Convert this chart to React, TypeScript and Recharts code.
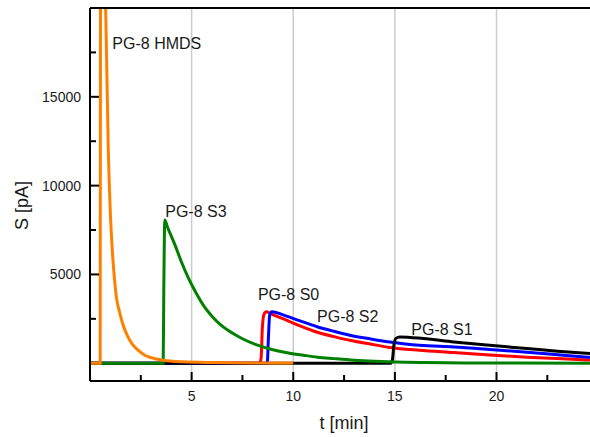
import React from 'react';
import { LineChart, Line, XAxis, YAxis, ReferenceLine, ReferenceDot } from 'recharts';

// time [min]
const hmdsT = [0, 0.45, 0.5, 0.52, 0.6, 0.68, 0.77, 0.9, 1.0, 1.1, 1.2, 1.3, 1.45, 1.6, 1.86, 2.1, 2.35, 2.7, 3.0, 3.6, 4.6, 6.0, 8.0, 10.0];
const hmdsS = [0, 0, 0, 24000, 32000, 28000, 20000, 12000, 8500, 6300, 4800, 3700, 2900, 2250, 1500, 1050, 750, 450, 320, 170, 80, 40, 20, 10];

const s3T = [0, 3.6, 3.63, 3.68, 3.8, 4.16, 4.5, 4.82, 5.2, 5.64, 6.0, 6.46, 7.0, 7.5, 8.1, 8.9, 9.7, 10.5, 11.2, 12.0, 13.0, 14.0, 15.0, 16.5, 18.5, 21.0, 24.6];
const s3S = [0, 0, 4000, 8070, 7700, 6720, 5700, 4850, 4000, 3160, 2650, 2130, 1700, 1380, 1080, 790, 590, 450, 340, 260, 170, 110, 70, 40, 20, 10, 5];

const s0T = [0, 8.35, 8.42, 8.48, 8.56, 8.67, 8.9, 9.49, 10.3, 11.14, 12.0, 12.78, 13.8, 14.75, 16.2, 17.9, 19.67, 21.5, 23.0, 24.6];
const s0S = [0, 0, 300, 2000, 2750, 2900, 2780, 2510, 2120, 1760, 1500, 1290, 1080, 890, 730, 600, 460, 340, 260, 180];

const s2T = [0, 8.72, 8.78, 8.84, 8.95, 9.5, 10.3, 11.14, 12.0, 12.78, 13.8, 14.75, 16.2, 17.9, 19.67, 21.5, 23.0, 24.6];
const s2S = [0, 0, 1500, 2700, 2900, 2720, 2400, 2070, 1800, 1580, 1370, 1200, 1010, 920, 780, 620, 480, 330];

const s1T = [0, 14.8, 14.88, 14.95, 15.05, 15.25, 16.4, 17.9, 19.67, 21.5, 23.0, 24.6];
const s1S = [0, 0, 200, 1000, 1400, 1480, 1390, 1200, 1010, 830, 680, 550];

const xTicks = [2.5, 5, 7.5, 10, 12.5, 15, 17.5, 20, 22.5];
const yTicks = [2500, 5000, 7500, 10000, 12500, 15000, 17500];
const gridX = [5, 10, 15, 20];

const labelNames = ['PG-8 HMDS', 'PG-8 S3', 'PG-8 S0', 'PG-8 S2', 'PG-8 S1'];
const labelT = [1.1, 3.7, 8.26, 11.17, 15.81];
const labelS = [17680, 8258, 3539, 2320, 1612];

const toData = (t: number[], s: number[]) => t.map((v, i) => ({ t: v, s: s[i] }));
const hmds = toData(hmdsT, hmdsS);
const s3 = toData(s3T, s3S);
const s0 = toData(s0T, s0S);
const s2 = toData(s2T, s2S);
const s1 = toData(s1T, s1S);

const FONT = '"Liberation Sans", Arial, sans-serif';

const XTick = (props: any) => {
  const { x, y, payload } = props;
  const v = payload.value;
  const major = v % 5 === 0;
  return (
    <g>
      <line x1={x} y1={y} x2={x} y2={y - (major ? 9 : 6)} stroke="#000" strokeWidth={2} />
      {major && (
        <text x={x} y={y + 20} textAnchor="middle" fontSize={14} fill="#1a1a1a" fontFamily={FONT}>
          {v}
        </text>
      )}
    </g>
  );
};

const YTick = (props: any) => {
  const { x, y, payload } = props;
  const v = payload.value;
  const major = v % 5000 === 0;
  return (
    <g>
      <line x1={x} y1={y} x2={x + (major ? 9 : 6)} y2={y} stroke="#000" strokeWidth={2} />
      {major && (
        <text x={x - 9} y={y + 5} textAnchor="end" fontSize={14} fill="#1a1a1a" fontFamily={FONT}>
          {v}
        </text>
      )}
    </g>
  );
};

const XLabel = (props: any) => {
  const vb = props.viewBox || { x: 90, y: 381, width: 500, height: 56 };
  return (
    <text x={vb.x + vb.width / 2 + 4} y={vb.y + 48} textAnchor="middle" fontSize={18} fill="#1a1a1a" fontFamily={FONT}>
      t [min]
    </text>
  );
};

const YLabel = (props: any) => {
  const vb = props.viewBox || { x: 0, y: 8, width: 90, height: 373 };
  const cx = vb.x + 27.7;
  const cy = vb.y + vb.height / 2 + 11;
  return (
    <text transform={`translate(${cx},${cy}) rotate(-90)`} textAnchor="middle" fontSize={18} fill="#1a1a1a" fontFamily={FONT}>
      S [pA]
    </text>
  );
};

export default function App() {
  return (
    <div style={{ position: 'absolute', left: 0, top: 0, width: 590, height: 437, background: '#fff' }}>
      <LineChart width={590} height={437} margin={{ top: 8, right: 0, left: 0, bottom: 0 }}>
        <XAxis
          type="number"
          dataKey="t"
          domain={[0, 24.6]}
          allowDataOverflow
          ticks={xTicks}
          interval={0}
          tickSize={0}
          tickMargin={0}
          tickLine={false}
          axisLine={{ stroke: '#000', strokeWidth: 2 }}
          tick={<XTick />}
          height={56}
          label={<XLabel />}
        />
        <YAxis
          type="number"
          dataKey="s"
          domain={[-1000, 20000]}
          allowDataOverflow
          ticks={yTicks}
          interval={0}
          tickSize={0}
          tickMargin={0}
          tickLine={false}
          axisLine={{ stroke: '#000', strokeWidth: 2 }}
          tick={<YTick />}
          width={90}
          label={<YLabel />}
        />
        {gridX.map((g) => (
          <ReferenceLine key={g} x={g} stroke="#cccccc" strokeWidth={1.5} />
        ))}
        <Line data={s0} dataKey="s" type="monotone" stroke="#ff0000" strokeWidth={3} dot={false} isAnimationActive={false} />
        <Line data={s2} dataKey="s" type="monotone" stroke="#0000ff" strokeWidth={3} dot={false} isAnimationActive={false} />
        <Line data={s1} dataKey="s" type="monotone" stroke="#000000" strokeWidth={3} dot={false} isAnimationActive={false} />
        <Line data={s3} dataKey="s" type="monotone" stroke="#008000" strokeWidth={3} dot={false} isAnimationActive={false} />
        <Line data={hmds} dataKey="s" type="monotone" stroke="#ff8000" strokeWidth={3} dot={false} isAnimationActive={false} />
        <ReferenceLine y={20000} stroke="#000" strokeWidth={2} />
        {labelNames.map((name, i) => (
          <ReferenceDot
            key={name}
            x={labelT[i]}
            y={labelS[i]}
            r={0}
            shape={(p: any) => (
              <text x={p.cx} y={p.cy} fontSize={16} fill="#1a1a1a" fontFamily={FONT}>
                {name}
              </text>
            )}
          />
        ))}
      </LineChart>
    </div>
  );
}
